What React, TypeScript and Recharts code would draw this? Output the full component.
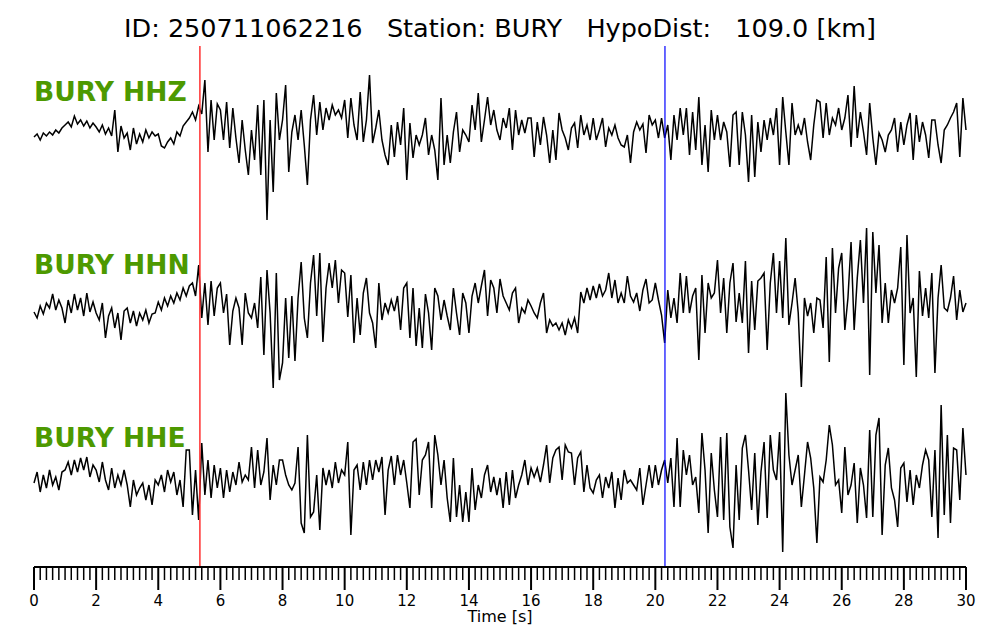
import { LineChart, Line, XAxis, YAxis, ReferenceLine } from 'recharts';

// 10 samples per second, amplitudes in screen units (up = positive)
const SAMPLE_RATE = 10;

const HHZ = [
  -7, -4, -10, -3, -6, -2, -5, 0, -3, 2,
  5, 8, 3, 14, 6, 10, 4, 9, 2, 7,
  3, -2, 5, -4, 2, -6, 20, -22, 4, -8,
  -3, -20, 2, -14, -4, -12, 0, -8, -2, -6,
  -4, -16, -18, -12, -8, -14, -2, -6, 4, 8,
  12, 18, 10, 24, 16, 50, -22, 30, -10, 26,
  20, -10, 28, -18, 22, -8, -33, 10, -20, -45,
  0, -30, 25, -45, 30, -90, 10, -62, 37, -10,
  10, 45, -42, -2, 15, -10, 20, -15, -55, 10,
  35, -5, 28, 0, 22, 10, 25, 15, 20, 12,
  30, -8, 32, 5, -10, 38, -12, 10, 55, -13,
  2, 20, -10, -25, -35, 5, -27, 8, -15, 22,
  -50, 7, -28, -5, -15, -5, 12, -25, -5, -20,
  -50, 32, -35, -5, -33, -2, 18, -22, 0, -5,
  -12, 25, 0, 37, -12, 10, 33, 5, 20, 0,
  -10, 12, 2, 22, -20, 20, -5, 10, -3, 12,
  12, -27, 8, -15, 13, -5, -33, 0, -30, 17,
  0, -8, -20, 2, 7, -18, 15, -5, 5, -10,
  12, -10, 0, 12, -17, 2, -5, 5, -8, -15,
  -17, -5, -33, -2, 8, 0, 6, -23, 15, 5,
  10, -8, 12, -8, 5, -30, 15, -10, 22, -5,
  22, -25, 18, -20, 33, -35, 5, -42, 20, -10,
  15, -10, 8, -2, -37, 15, 18, -35, 18, -5,
  -52, 15, -47, 8, -22, 10, -10, 12, -5, 22,
  -35, 33, -2, -35, 27, -5, 5, -5, 12, -12,
  -30, 5, 30, 28, -8, 27, -5, 12, 5, 22,
  0, 12, 35, -17, 44, -8, 18, -2, -25, 27,
  -8, -35, -3, -10, -22, -5, 0, 12, -22, 8,
  -15, 5, 17, -30, 15, -12, 8, -5, -28, 10,
  10, -15, -33, 0, 5, 12, 18, 27, -27, 32,
  0,
];

const HHN = [
  -4, -10, 2, -6, 5, 0, 14, -2, 8, 0,
  -15, 8, -5, 14, -2, 10, -8, 15, -4, 6,
  -5, -12, 5, -30, -8, 0, -20, -5, -32, -3,
  0, -15, -3, -18, -5, -12, -2, -15, -6, -5,
  6, -2, 10, 2, 12, 5, 15, 8, 20, 12,
  22, 25, 12, 43, -10, 25, -17, 27, -8, 20,
  25, -5, 14, -37, -3, 10, 0, -37, 15, -5,
  -10, 5, -20, 31, -47, 38, -5, -80, 35, -72,
  -55, 10, -50, 12, -53, 10, 46, -10, -30, 25,
  53, -8, 55, -34, 20, 45, 20, 48, 5, 38,
  35, -9, 33, -35, 10, -27, 15, 30, -5, -15,
  -40, 25, -12, 5, -5, 8, -3, 12, -22, 20,
  25, -30, 20, -38, 0, -40, 14, -5, -42, 20,
  12, -12, 8, -8, -22, 20, -5, -27, 15, 5,
  -25, 12, 25, 5, 22, 38, -8, 28, 20, -5,
  29, 12, 5, -2, 15, 20, -15, 0, -5, 8,
  2, -5, -10, 5, 15, -25, -12, -18, -15, -22,
  -15, -27, -12, -20, -10, -25, 16, 5, 20, 8,
  22, 10, 24, 12, 18, 35, 10, 28, 5, 15,
  5, 32, 12, 6, 15, -3, 18, 29, 5, 8,
  25, 8, -7, -35, 18, -10, 10, -15, 35, -5,
  32, -5, 12, 20, -52, 33, -25, 25, 10, 15,
  48, -5, 30, -25, 25, 45, -14, 15, -15, 47,
  -45, 27, -22, 27, 30, 35, -42, 25, 55, -5,
  47, -10, 70, -17, 5, 30, -5, -79, 10, -8,
  5, -25, 10, 8, -20, 51, -54, 60, -5, 40,
  55, -22, 10, 66, -22, 30, 68, 5, 80, -67,
  76, 15, 63, -15, 25, -15, 18, 5, 20, 61,
  -57, 73, -5, 10, -69, 37, -8, 20, -10, 35,
  -65, 10, 43, 0, -3, 10, 32, -12, 18, -4,
  5,
];

const HHE = [
  -3, 8, -12, 5, -8, 10, -5, 3, -10, 8,
  10, 18, 5, 20, 8, 22, 10, 23, 3, 15,
  10, -2, 18, 0, -10, 12, -8, 5, -5, 10,
  -5, -27, 0, -15, -8, -3, -20, -5, -25, 0,
  -5, 5, -12, 10, -2, 8, -15, 0, -27, 30,
  30, -35, 10, -40, 37, -15, 20, -18, 15, -8,
  12, -18, 10, -12, 8, -5, 18, -2, 5, 0,
  33, -8, 30, -5, 8, 42, -20, 15, -5, 20,
  20, 5, -5, -10, -3, 33, -43, -53, 45, -37,
  -32, 5, -50, 12, -5, 10, -8, 18, -3, 10,
  5, 38, -55, 10, 15, -10, 18, -5, 20, 0,
  20, 8, 23, -35, 10, 24, -5, 25, 5, 20,
  -3, -28, 38, 41, -15, 20, 25, 38, -28, 45,
  25, -5, 20, -18, -42, 22, -37, -5, -42, -12,
  -42, 12, -30, -5, -18, 5, 15, -12, 3, -15,
  2, -28, 8, -25, 10, -18, -5, 5, 20, -5,
  12, 3, 12, -2, 15, 35, -3, 22, 30, 33,
  0, 35, 28, 27, -5, 22, 28, -12, 15, -8,
  -13, 0, 5, -18, 3, -8, 8, -28, 2, -20,
  10, -3, 0, -5, -10, 12, -25, -5, 15, -8,
  15, -5, 10, 20, -3, 22, -27, 42, -27, 30,
  5, 25, -5, 3, -33, 47, 10, -53, 27, -10,
  -37, 43, -40, 47, -47, -68, 15, -40, 32, 45,
  10, -30, 27, -45, 8, 38, -38, 45, 10, 0,
  48, -72, 87, 25, -5, 10, 25, -27, 5, 38,
  22, -8, -63, 3, -2, 20, 55, 35, -5, 0,
  -33, 33, -15, -5, 17, -43, 12, -5, -38, 50,
  -37, 45, 62, -55, 15, 32, -8, -20, -47, 12,
  17, -22, 10, -25, 5, -8, 15, 30, 20, -37,
  30, -58, 75, -35, 45, -43, 32, 30, -20, 52,
  5,
];

const P_PICK = 5.34;
const S_PICK = 20.31;

const TITLE = 'ID: 250711062216   Station: BURY   HypoDist:   109.0 [km]';
const CHANNELS = ['BURY HHZ', 'BURY HHN', 'BURY HHE'];
const MAJOR_TICKS = [0, 2, 4, 6, 8, 10, 12, 14, 16, 18, 20, 22, 24, 26, 28, 30];
const ALL_TICKS = Array.from({ length: 151 }, (_, i) => (i * 2) / 10);

// layout
const W = 1000;
const H = 640;
const PLOT_TOP = 46;
const PLOT_BOTTOM = 567;
const TRACE_CENTER = [130, 308, 480];
const LABEL_BASELINE = [101, 274, 447];
const FONT = 'DejaVu Sans, sans-serif';

const data = HHZ.map((z, i) => ({ t: i / SAMPLE_RATE, z, n: HHN[i], e: HHE[i] }));

// one screen unit per amplitude unit; each trace sits at its own row
const domainFor = (c: number) => [-(PLOT_BOTTOM - c), c - PLOT_TOP];

function TimeTick({ x, y, payload }: any) {
  const v = payload.value;
  const major = MAJOR_TICKS.includes(v);
  return (
    <g>
      <line x1={x} x2={x} y1={y} y2={y + (major ? 23 : 13)} stroke="#000" strokeWidth={major ? 2 : 1.5} />
      {major && (
        <text x={x} y={y + 39} textAnchor="middle" fontSize={15} fontFamily={FONT} fill="#000">
          {v}
        </text>
      )}
    </g>
  );
}

export default function App() {
  return (
    <div style={{ position: 'absolute', left: 0, top: 0, width: W, height: H, background: '#fff', fontFamily: FONT }}>
      <LineChart width={W} height={H} data={data} margin={{ top: PLOT_TOP, right: 34, bottom: 0, left: 34 }}>
        <XAxis
          xAxisId="top"
          orientation="top"
          dataKey="t"
          type="number"
          domain={[0, 30]}
          height={0}
          tick={false}
          tickLine={false}
          axisLine={{ stroke: '#000', strokeWidth: 1.5 }}
        />
        <XAxis
          dataKey="t"
          type="number"
          domain={[0, 30]}
          ticks={ALL_TICKS}
          interval={0}
          height={H - PLOT_BOTTOM}
          tickSize={0}
          tickMargin={0}
          tickLine={false}
          tick={<TimeTick />}
          axisLine={{ stroke: '#000', strokeWidth: 2 }}
        />
        <YAxis yAxisId="z" hide domain={domainFor(TRACE_CENTER[0])} allowDataOverflow />
        <YAxis yAxisId="n" hide domain={domainFor(TRACE_CENTER[1])} allowDataOverflow />
        <YAxis yAxisId="e" hide domain={domainFor(TRACE_CENTER[2])} allowDataOverflow />
        <Line yAxisId="z" dataKey="z" type="linear" stroke="#000" strokeWidth={1.5} dot={false} isAnimationActive={false} />
        <Line yAxisId="n" dataKey="n" type="linear" stroke="#000" strokeWidth={1.5} dot={false} isAnimationActive={false} />
        <Line yAxisId="e" dataKey="e" type="linear" stroke="#000" strokeWidth={1.5} dot={false} isAnimationActive={false} />
        <ReferenceLine yAxisId="z" x={P_PICK} stroke="#ff3030" strokeWidth={1.5} />
        <ReferenceLine yAxisId="z" x={S_PICK} stroke="#0000ff" strokeWidth={1.2} />
      </LineChart>
      <svg width={W} height={H} style={{ position: 'absolute', left: 0, top: 0, pointerEvents: 'none' }}>
        <text x={500} y={37} textAnchor="middle" fontSize={25.5} fontFamily={FONT} fill="#000" style={{ whiteSpace: 'pre' }}>
          {TITLE}
        </text>
        {CHANNELS.map((c, i) => (
          <text key={c} x={34} y={LABEL_BASELINE[i]} fontSize={26.5} fontWeight="bold" fontFamily={FONT} fill="#4d9900">
            {c}
          </text>
        ))}
        <text x={500} y={622} textAnchor="middle" fontSize={16} fontFamily={FONT} fill="#000">
          Time [s]
        </text>
      </svg>
    </div>
  );
}
